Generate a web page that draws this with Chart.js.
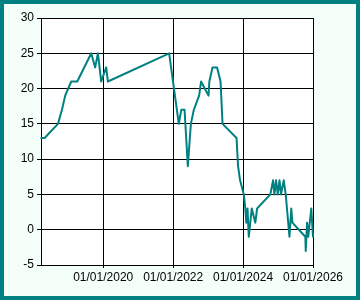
<!DOCTYPE html>
<html>
<head>
<meta charset="utf-8">
<script src="https://cdn.jsdelivr.net/npm/chart.js@4/dist/chart.umd.min.js"></script>
<style>
html,body{margin:0;padding:0;background:#fff;}
#wrap{width:360px;height:300px;position:relative;}
</style>
</head>
<body>
<div id="wrap"><canvas id="c" width="360" height="300"></canvas></div>
<script>
const dates = ['2018-03-25','2018-04-29','2018-09-15','2018-10-27','2018-11-30','2019-02-01','2019-04-05','2019-08-29','2019-10-09','2019-11-07','2019-12-11','2020-02-01','2020-02-19','2021-11-20','2022-03-01','2022-03-27','2022-04-30','2022-06-03','2022-07-05','2022-08-05','2022-09-29','2022-10-20','2023-01-05','2023-01-14','2023-02-16','2023-04-05','2023-05-11','2023-06-01','2023-10-25','2023-11-10','2023-12-01','2024-01-09','2024-01-25','2024-02-04','2024-02-17','2024-03-01','2024-04-01','2024-05-08','2024-05-27','2024-10-12','2024-11-10','2024-11-24','2024-12-11','2024-12-29','2025-01-16','2025-02-01','2025-03-01','2025-03-22','2025-04-30','2025-05-19','2025-05-31','2025-10-13','2025-10-17','2025-10-31','2025-11-12','2025-12-14','2026-01-01'];
const values = [13,13,15,17,19,21,21,25,23,25,21,23,21,25,15,17,17,9,15,17,19,21,19,21,23,23,21,15,13,9,7,5,3,1,3,-1,3,1,3,5,7,5,7,5,7,5,7,5,-1,3,1,-1,-3,1,-1,3,-1];
const xTickDates = ['2020-01-01','2022-01-01','2024-01-01','2026-01-01'];
const xTickLabels = ['01/01/2020','01/01/2022','01/01/2024','01/01/2026'];
const xRange = ['2018-03-22','2026-01-01'];
const yRange = [-5, 30];
const yStep = 5;

const t = s => new Date(s + 'T00:00:00Z').getTime();
const points = dates.map((d,i) => ({x: t(d), y: values[i]}));
const tickVals = xTickDates.map(t);

const bgPlugin = {
  id: 'bg',
  beforeDraw(chart) {
    const ctx = chart.ctx, a = chart.chartArea;
    ctx.save();
    ctx.fillStyle = '#008080';
    ctx.fillRect(0, 0, chart.width, chart.height);
    ctx.fillStyle = '#F5FFFA';
    ctx.fillRect(4, 4, chart.width - 8, chart.height - 8);
    ctx.fillStyle = '#FFFFFF';
    ctx.fillRect(a.left, a.top, a.right - a.left, a.bottom - a.top);
    ctx.restore();
  }
};

new Chart(document.getElementById('c'), {
  type: 'line',
  data: {
    datasets: [{
      data: points,
      borderColor: '#008080',
      borderWidth: 2,
      borderJoinStyle: 'round',
      borderCapStyle: 'round',
      pointRadius: 0,
      tension: 0,
      fill: false,
      clip: 2
    }]
  },
  options: {
    responsive: false,
    animation: false,
    devicePixelRatio: 1,
    layout: {padding: {left: 0, top: 18, right: 47, bottom: 0}},
    plugins: {legend: {display: false}, tooltip: {enabled: false}},
    scales: {
      x: {
        type: 'linear',
        min: t(xRange[0]),
        max: t(xRange[1]),
        afterBuildTicks: s => { s.ticks = tickVals.map(v => ({value: v})); },
        afterFit: s => { s.height = 35; },
        grid: {color: '#000', lineWidth: 1, tickLength: 3, drawTicks: true},
        border: {color: '#000', width: 1},
        ticks: {
          autoSkip: false, maxRotation: 0, minRotation: 0, padding: 2,
          color: '#000', font: {family: 'Liberation Sans, Arial, sans-serif', size: 12},
          callback: v => { const i = tickVals.indexOf(v); return i >= 0 ? xTickLabels[i] : ''; }
        }
      },
      y: {
        min: yRange[0], max: yRange[1],
        afterFit: s => { s.width = 41; },
        grid: {color: '#000', lineWidth: 1, tickLength: 4},
        border: {color: '#000', width: 1},
        ticks: {
          stepSize: yStep, padding: 3,
          color: '#000', font: {family: 'Liberation Sans, Arial, sans-serif', size: 12}
        }
      }
    }
  },
  plugins: [bgPlugin]
});
</script>
</body>
</html>
